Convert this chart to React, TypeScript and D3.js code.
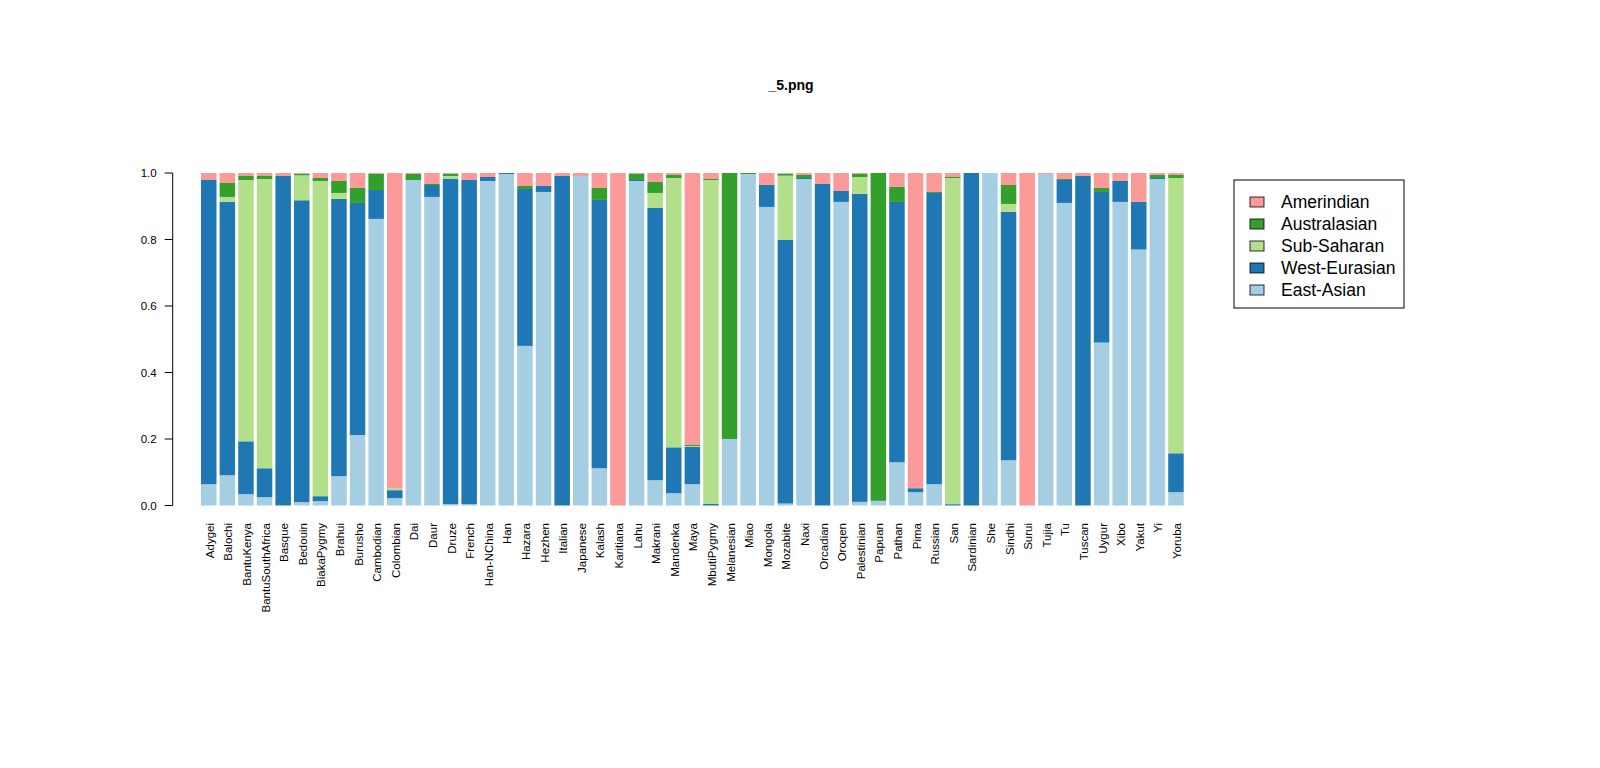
import React, { useRef, useEffect } from 'react';
import * as d3 from 'd3';

// populations in plotting order
const populations = [
  'Adygei', 'Balochi', 'BantuKenya', 'BantuSouthAfrica', 'Basque', 'Bedouin', 'BiakaPygmy',
  'Brahui', 'Burusho', 'Cambodian', 'Colombian', 'Dai', 'Daur', 'Druze', 'French',
  'Han-NChina', 'Han', 'Hazara', 'Hezhen', 'Italian', 'Japanese', 'Kalash', 'Karitiana',
  'Lahu', 'Makrani', 'Mandenka', 'Maya', 'MbutiPygmy', 'Melanesian', 'Miao', 'Mongola',
  'Mozabite', 'Naxi', 'Orcadian', 'Oroqen', 'Palestinian', 'Papuan', 'Pathan', 'Pima',
  'Russian', 'San', 'Sardinian', 'She', 'Sindhi', 'Surui', 'Tujia', 'Tu', 'Tuscan',
  'Uygur', 'Xibo', 'Yakut', 'Yi', 'Yoruba',
];

// ancestry proportions, one value per population
const eastAsian = [
  0.064, 0.091, 0.034, 0.025, 0, 0.01, 0.013, 0.088, 0.212, 0.862, 0.022, 0.979, 0.928, 0.004, 0.004,
  0.976, 0.997, 0.48, 0.943, 0, 0.991, 0.112, 0, 0.976, 0.076, 0.037, 0.064, 0, 0.2, 0.997, 0.898,
  0.006, 0.982, 0, 0.913, 0.011, 0.014, 0.13, 0.04, 0.064, 0, 0, 1, 0.136, 0, 0.997, 0.91, 0,
  0.49, 0.913, 0.77, 0.982, 0.04,
];
const westEurasian = [
  0.915, 0.822, 0.159, 0.087, 0.991, 0.908, 0.015, 0.834, 0.698, 0.087, 0.024, 0, 0.036, 0.978, 0.975,
  0.012, 0.003, 0.472, 0.018, 0.991, 0, 0.807, 0, 0.003, 0.819, 0.138, 0.112, 0.005, 0, 0, 0.066,
  0.793, 0.003, 0.967, 0.033, 0.926, 0, 0.783, 0.012, 0.876, 0.004, 1, 0, 0.747, 0, 0, 0.069, 0.991,
  0.453, 0.063, 0.143, 0.003, 0.117,
];
const subSaharan = [
  0, 0.015, 0.786, 0.87, 0, 0.075, 0.948, 0.018, 0, 0, 0.006, 0, 0, 0.009, 0,
  0, 0, 0, 0, 0, 0, 0, 0, 0, 0.045, 0.81, 0.003, 0.974, 0, 0, 0,
  0.193, 0, 0, 0, 0.051, 0, 0, 0, 0, 0.981, 0, 0, 0.024, 0, 0, 0, 0,
  0, 0, 0, 0, 0.828,
];
const australasian = [
  0, 0.042, 0.012, 0.009, 0, 0.005, 0.009, 0.036, 0.045, 0.048, 0, 0.018, 0.003, 0.006, 0,
  0, 0, 0.009, 0, 0, 0, 0.036, 0, 0.018, 0.033, 0.009, 0.003, 0.003, 0.8, 0.003, 0,
  0.006, 0.009, 0, 0, 0.009, 0.986, 0.045, 0, 0.003, 0.003, 0, 0, 0.057, 0, 0, 0.003, 0,
  0.012, 0, 0, 0.009, 0.009,
];
const amerindian = [
  0.021, 0.03, 0.009, 0.009, 0.009, 0.002, 0.015, 0.024, 0.045, 0.003, 0.948, 0.003, 0.033, 0.003, 0.021,
  0.012, 0, 0.039, 0.039, 0.009, 0.009, 0.045, 1, 0.003, 0.027, 0.006, 0.818, 0.018, 0, 0, 0.036,
  0.002, 0.006, 0.033, 0.054, 0.003, 0, 0.042, 0.948, 0.057, 0.012, 0, 0, 0.036, 1, 0.003, 0.018, 0.009,
  0.045, 0.024, 0.087, 0.006, 0.006,
];

// bottom to top stacking order
const seriesKeys = ['East-Asian', 'West-Eurasian', 'Sub-Saharan', 'Australasian', 'Amerindian'];
const seriesColors = ['#A6CEE3', '#1F78B4', '#B2DF8A', '#33A02C', '#FB9A99'];
const seriesValues = [eastAsian, westEurasian, subSaharan, australasian, amerindian];
const yTicks = [0, 0.2, 0.4, 0.6, 0.8, 1.0];

const FONT = '"Liberation Sans", Arial, Helvetica, sans-serif';

const App: React.FC = () => {
  const svgRef = useRef<SVGSVGElement>(null);

  useEffect(() => {
    if (!svgRef.current) return;
    const svg = d3.select(svgRef.current);
    svg.selectAll('*').remove();

    const rows = populations.map((p, i) => {
      const r: Record<string, any> = { pop: p };
      seriesKeys.forEach((k, j) => { r[k] = seriesValues[j][i]; });
      return r;
    });

    const x = d3.scaleBand<string>()
      .domain(populations)
      .range([201, 1183.7])
      .paddingInner(0.2 / 1.2)
      .paddingOuter(0);

    const y = d3.scaleLinear().domain([0, 1]).range([505.5, 173]);
    const color = d3.scaleOrdinal<string, string>().domain(seriesKeys).range(seriesColors);

    const stacked = d3.stack<any>().keys(seriesKeys)(rows);

    svg.append('g')
      .selectAll('g')
      .data(stacked)
      .join('g')
      .attr('fill', d => color(d.key))
      .selectAll('rect')
      .data(d => d)
      .join('rect')
      .attr('x', d => x(d.data.pop)!)
      .attr('width', x.bandwidth())
      .attr('y', d => y(d[1]))
      .attr('height', d => Math.max(0, y(d[0]) - y(d[1])));

    // y axis, R style
    const axisX = 172.7;
    const ax = svg.append('g').attr('stroke', '#000').attr('fill', 'none');
    ax.append('line')
      .attr('x1', axisX).attr('x2', axisX)
      .attr('y1', y(0)).attr('y2', y(1));
    ax.selectAll('line.tick')
      .data(yTicks)
      .join('line')
      .attr('class', 'tick')
      .attr('x1', axisX - 8).attr('x2', axisX)
      .attr('y1', d => y(d)).attr('y2', d => y(d));

    svg.append('g')
      .selectAll('text')
      .data(yTicks)
      .join('text')
      .attr('x', axisX - 16)
      .attr('y', d => y(d))
      .attr('dy', '0.35em')
      .attr('text-anchor', 'end')
      .attr('font-family', FONT)
      .attr('font-size', 11.5)
      .text(d => d.toFixed(1));

    // population labels
    svg.append('g')
      .selectAll('text')
      .data(populations)
      .join('text')
      .attr('transform', d => `translate(${x(d)! + x.bandwidth() / 2 + 1},523) rotate(-90)`)
      .attr('dy', '0.35em')
      .attr('text-anchor', 'end')
      .attr('font-family', FONT)
      .attr('font-size', 11.5)
      .text(d => d);

    // title
    svg.append('text')
      .attr('x', 791)
      .attr('y', 90)
      .attr('text-anchor', 'middle')
      .attr('font-family', FONT)
      .attr('font-weight', 'bold')
      .attr('font-size', 14)
      .text('_5.png');

    // legend (top entry = top of stack)
    const legend = svg.append('g');
    legend.append('rect')
      .attr('x', 1234).attr('y', 180)
      .attr('width', 170).attr('height', 128)
      .attr('fill', 'none').attr('stroke', '#000');
    const legendKeys = seriesKeys.slice().reverse();
    const items = legend.selectAll('g.item')
      .data(legendKeys)
      .join('g')
      .attr('class', 'item')
      .attr('transform', (_, i) => `translate(0,${202 + i * 22})`);
    items.append('rect')
      .attr('x', 1250).attr('y', -5)
      .attr('width', 14).attr('height', 10)
      .attr('fill', d => color(d))
      .attr('stroke', '#000')
      .attr('stroke-width', 0.8);
    items.append('text')
      .attr('x', 1281)
      .attr('dy', '0.35em')
      .attr('font-family', FONT)
      .attr('font-size', 17.5)
      .text(d => d);
  }, []);

  return (
    <svg
      ref={svgRef}
      width={1600}
      height={768}
      style={{ position: 'absolute', left: 0, top: 0, background: '#fff' }}
    />
  );
};

export default App;
